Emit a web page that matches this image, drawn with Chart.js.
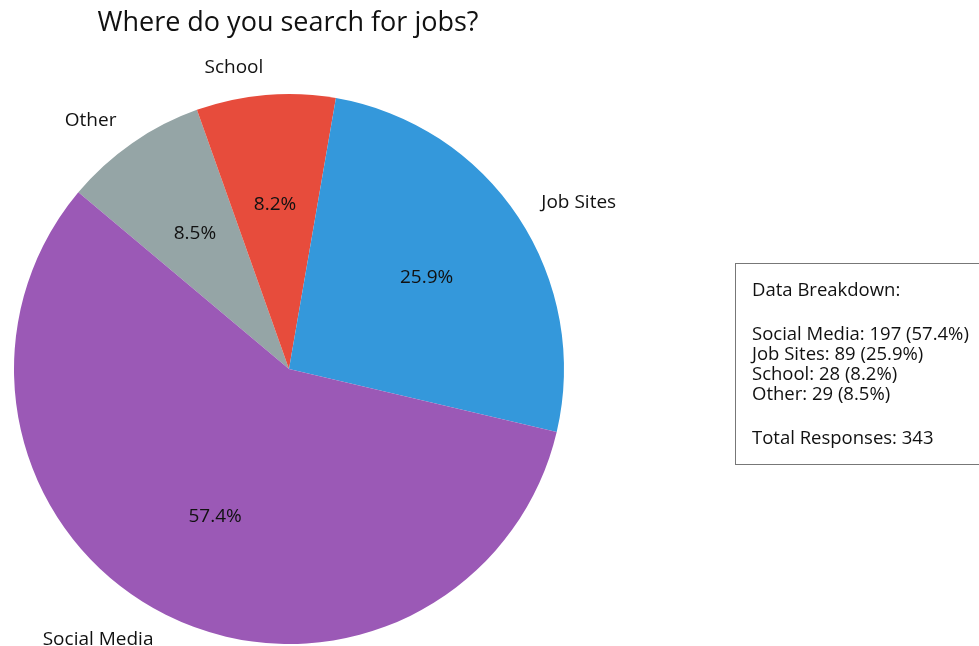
<!DOCTYPE html>
<html lang="en">
<head>
  <meta charset="UTF-8" />
  <title>Where do you search for jobs?</title>
  <style>
    html, body { margin: 0; padding: 0; background: #fff; overflow: hidden; }
    body { width: 979px; height: 646px; position: relative; font-family: "Open Sans", sans-serif; color: #111; }
    #wrap { position: absolute; left: 0; top: 0; width: 979px; height: 646px; }
    #title { position: absolute; left: 0; width: 576px; top: 1px; line-height: 40px; text-align: center; font-size: 27px; }
    #breakdown {
      position: absolute; left: 735px; top: 263px; width: 260px; height: 202px;
      border: 1px solid #777; box-sizing: border-box; padding: 15px 0 0 16px;
      font-size: 18.5px; white-space: pre;
    }
    #breakdown div { height: 20px; line-height: 20px; }
    #breakdown div.gap { height: 24px; }
  </style>
</head>
<body>

<div id="wrap"><canvas id="pieChart" width="979" height="646"></canvas></div>
<div id="title">Where do you search for jobs?</div>
<div id="breakdown"></div>

<script src="https://cdn.jsdelivr.net/npm/chart.js"></script>
<script>
  // data, in legend order
  const categories = ['Social Media', 'Job Sites', 'School', 'Other'];
  const responses = [197, 89, 28, 29];
  const colors = ['#9b59b6', '#3498db', '#e74c3c', '#95a5a6'];

  const total = responses.reduce((a, b) => a + b, 0);
  const pct = v => (v / total * 100).toFixed(1) + '%';

  // breakdown box
  const box = document.getElementById('breakdown');
  function addLine(text, cls) {
    const d = document.createElement('div');
    d.textContent = text;
    if (cls) d.className = cls;
    box.appendChild(d);
  }
  addLine('Data Breakdown:');
  addLine('', 'gap');
  categories.forEach((c, i) => addLine(c + ': ' + responses[i] + ' (' + pct(responses[i]) + ')'));
  addLine('', 'gap');
  addLine('Total Responses: ' + total);

  // Chart.js goes clockwise, the original goes the other way round
  const order = [3, 2, 1, 0];

  const sliceLabels = {
    id: 'sliceLabels',
    afterDatasetsDraw(chart) {
      const ctx = chart.ctx;
      const meta = chart.getDatasetMeta(0);
      ctx.save();
      ctx.font = '19px "Open Sans", sans-serif';
      ctx.fillStyle = '#111';
      ctx.textBaseline = 'middle';
      meta.data.forEach((arc, i) => {
        const p = arc.getProps(['x', 'y', 'startAngle', 'endAngle', 'outerRadius']);
        const mid = (p.startAngle + p.endAngle) / 2;
        const cx = Math.cos(mid), cy = Math.sin(mid);
        // percentage inside
        ctx.textAlign = 'center';
        ctx.fillText(pct(chart.data.datasets[0].data[i]), p.x + cx * p.outerRadius * 0.6, p.y + cy * p.outerRadius * 0.6);
        // category outside
        ctx.textAlign = cx > 0 ? 'left' : 'right';
        ctx.fillText(chart.data.labels[i], p.x + cx * p.outerRadius * 1.1, p.y + cy * p.outerRadius * 1.1);
      });
      ctx.restore();
    }
  };

  new Chart(document.getElementById('pieChart').getContext('2d'), {
    type: 'pie',
    data: {
      labels: order.map(i => categories[i]),
      datasets: [{
        data: order.map(i => responses[i]),
        backgroundColor: order.map(i => colors[i]),
        borderWidth: 0
      }]
    },
    options: {
      responsive: false,
      animation: false,
      rotation: -50,
      layout: { padding: { left: 14, right: 415, top: 94, bottom: 2 } },
      plugins: {
        legend: { display: false },
        title: { display: false },
        tooltip: { enabled: false }
      }
    },
    plugins: [sliceLabels]
  });
</script>

</body>
</html>
